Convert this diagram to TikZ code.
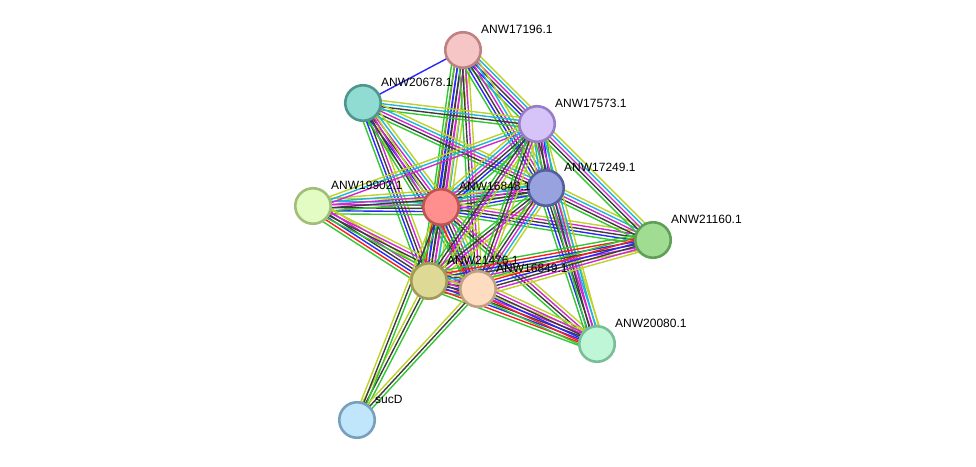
\documentclass[tikz,border=0pt]{standalone}
\usepackage{fontspec}
\setmainfont{Liberation Sans}
\usetikzlibrary{calc}
\pgfdeclarelayer{background}
\pgfsetlayers{background,main}
\definecolor{eg}{RGB}{50,200,50}
\definecolor{er}{RGB}{250,30,30}
\definecolor{eb}{RGB}{40,40,250}
\definecolor{ek}{RGB}{60,60,60}
\definecolor{em}{RGB}{210,40,210}
\definecolor{ec}{RGB}{30,180,220}
\definecolor{ey}{RGB}{190,210,40}
\newcommand\edg[3]{%
  \foreach \c [count=\i] in {#3} {\xdef\nn{\i}}%
  \foreach \c [count=\i] in {#3} {%
    \pgfmathsetmacro\off{(\i-(\nn+1)/2)*3.1}%
    \draw[color=\c, line width=1.4pt] ($(#1)!\off pt!90:(#2)$) -- ($(#2)!\off pt!-90:(#1)$);
  }%
}
\newcommand\prot[5]{% name, x, y, fill, border
  \definecolor{f#1}{RGB}{#4}\definecolor{d#1}{RGB}{#5}%
  \node[prot, fill=f#1, draw=d#1] (#1) at (#2,#3) {};
}
\tikzset{
  prot/.style={circle, minimum size=35.5pt, inner sep=0pt, line width=2.6pt},
  lab/.style={anchor=base west, font=\fontsize{12}{14}\selectfont, text=black, inner sep=0pt}
}
\begin{document}
\begin{tikzpicture}[x=1pt,y=-1pt]
\useasboundingbox (0,0) rectangle (976,466);
\prot{A}{463}{50}{246,198,198}{190,130,130}
\prot{B}{363}{103}{144,220,210}{80,150,140}
\prot{C}{537}{124}{214,196,248}{150,125,200}
\prot{D}{546}{188}{152,162,222}{85,95,160}
\prot{E}{441}{207}{255,143,143}{190,85,85}
\prot{F}{313}{206}{226,252,196}{160,190,120}
\prot{G}{653}{240}{160,220,145}{95,160,85}
\prot{H}{429}{281}{222,218,150}{160,155,90}
\prot{I}{478}{289}{254,220,192}{190,160,130}
\prot{J}{597}{344}{192,246,216}{120,190,150}
\prot{K}{357}{420}{192,230,252}{120,160,190}
\begin{pgfonlayer}{background}
\edg{A}{B}{eb}
\edg{A}{E}{eg,er,eb,ek,em,ec,ey}
\edg{A}{H}{eg,eb,ek,em,ey}
\edg{A}{I}{eg,ek,em,ey}
\edg{A}{C}{eg,eb,ek,em,ec,ey}
\edg{A}{D}{eg,eb,ek,em,ec,ey}
\edg{B}{C}{eg,ek,ec,ey}
\edg{B}{D}{eg,ek,em,ec,ey}
\edg{B}{E}{eg,eb,ek,em,ec,ey}
\edg{B}{H}{eg,eb,ek,em,ey}
\edg{B}{I}{eg,ek,em,ey}
\edg{F}{E}{eg,eb,ek,em,ec,ey}
\edg{F}{D}{eg,ek,em,ec,ey}
\edg{F}{H}{eg,er,eb,ek,em,ey}
\edg{F}{I}{eg,ek,em,ey}
\edg{F}{C}{em,ec,ey}
\edg{E}{C}{eg,eb,ek,em,ec,ey}
\edg{E}{D}{eg,eb,ek,em,ec,ey}
\edg{E}{H}{eg,er,eb,ek,em,ec,ey}
\edg{E}{I}{eg,er,eb,ek,em,ec,ey}
\edg{E}{G}{eg,eb,ek,em,ey}
\edg{E}{J}{eg,ek,em,ey}
\edg{D}{C}{eg,eb,ek,em,ec,ey}
\edg{D}{G}{eg,ek,em,ec,ey}
\edg{D}{H}{eg,ek,em,ey}
\edg{D}{I}{eg,ek,em,ec,ey}
\edg{D}{J}{eg,eb,ek,em,ec,ey}
\edg{C}{G}{eg,ek,em,ec,ey}
\edg{C}{H}{eg,ek,em,ey}
\edg{C}{I}{eg,ek,em,ey}
\edg{C}{J}{eg,ek,em,ec,ey}
\edg{G}{H}{eg,er,eb,ek,em,ey}
\edg{G}{I}{eg,er,eb,ek,em,ey}
\edg{H}{I}{eg,er,eb,ek,em,ec,ey}
\edg{H}{J}{eg,er,eb,ek,em,ey}
\edg{I}{J}{eg,er,eb,ek,em,ey}
\edg{K}{H}{eg,ek,ey}
\edg{K}{E}{eg,ek,ey}
\edg{K}{I}{eg,ek,ey}
\end{pgfonlayer}
\node[lab] (lA) at ($(A)+(18,-17)$) {ANW17196.1};
\node[lab] (lB) at ($(B)+(18,-17)$) {ANW20678.1};
\node[lab] (lC) at ($(C)+(18,-17)$) {ANW17573.1};
\node[lab] (lD) at ($(D)+(18,-17)$) {ANW17249.1};
\node[lab] (lE) at ($(E)+(18,-17)$) {ANW16848.1};
\node[lab] (lF) at ($(F)+(18,-17)$) {ANW19902.1};
\node[lab] (lG) at ($(G)+(18,-17)$) {ANW21160.1};
\node[lab] (lH) at ($(H)+(18,-17)$) {ANW21476.1};
\node[lab] (lI) at ($(I)+(18,-17)$) {ANW16849.1};
\node[lab] (lJ) at ($(J)+(18,-17)$) {ANW20080.1};
\node[lab] (lK) at ($(K)+(18,-17)$) {sucD};
\end{tikzpicture}
\end{document}
